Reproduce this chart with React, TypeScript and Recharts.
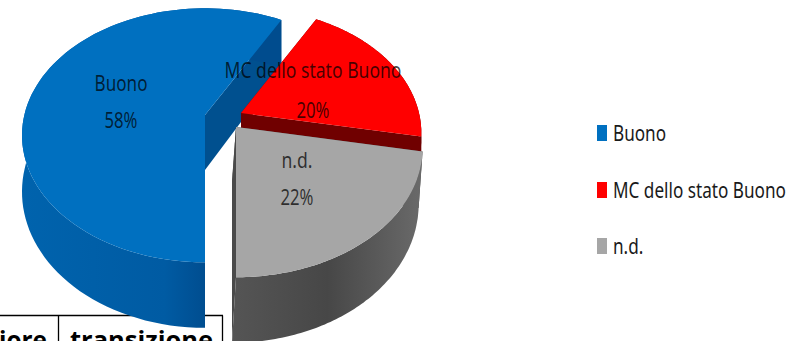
import React from 'react';
import { PieChart, Pie, Legend } from 'recharts';

// Quality status shares shown in the exploded 3D pie
const categories = ['Buono', 'MC dello stato Buono', 'n.d.'];
const shares = [58, 20, 22];
const topColors = ['#0070c0', '#ff0000', '#a6a6a6'];
const cutColors = ['#00508f', '#700000', '#4a4a4a'];
const wallIds = ['wallBlue', 'wallRed', 'wallGrey'];

// Table header cells that sit under the chart
const tableCells = ['iore', 'transizione'];

const pieData = categories.map((name, i) => ({ name, value: shares[i], fill: topColors[i] }));

const FONT = '"Liberation Sans Narrow", "Noto Sans", sans-serif';
const W = 794;
const H = 341;

// Explosion of each slice from the pie centre, its size, wall depth and lower face skew
const explode = [
  { x: -25, y: -5, size: 1.015, depth: 1, lowX: 0 },
  { x: 11, y: -7, size: 1, depth: 0.3, lowX: 0 },
  { x: 6, y: 7, size: 1.035, depth: 1, lowX: -4 },
];
const SQUASH = 0.685;
const PERSPECTIVE = 0.16;
const DEPTH = 55;

// Data label layout relative to the pie centre: x, first line y, second line y, text widths
const labelLayout = [
  { x: -109, y1: -29, y2: 8, w1: 53, w2: 33 },
  { x: 83, y1: -42, y2: -2, w1: 177, w2: 33 },
  { x: 67, y1: 48, y2: 85, w1: 31, w2: 33 },
];

// Legend rows: swatch top
const legendRows = [{ y: 125 }, { y: 182 }, { y: 238 }];
const LEGEND_TEXT_SQUEEZE = 0.78;

type Pt = [number, number];

const toPath = (pts: Pt[]) =>
  'M' + pts.map((p) => `${p[0].toFixed(1)},${p[1].toFixed(1)}`).join('L') + 'Z';

const Slice = (props: any) => {
  const { cx, cy, outerRadius, startAngle, endAngle, fill, index } = props;
  const i = typeof index === 'number' ? index : categories.indexOf(props.name);
  const off = explode[i];
  const ax = cx + off.x;
  const ay = cy + off.y;
  const R = outerRadius * off.size;
  const n = 90;
  const angles = Array.from({ length: n + 1 }, (_, j) => startAngle + ((endAngle - startAngle) * j) / n);
  // Perspective projection of a point on the disc, optionally on its lower face
  const at = (deg: number, radial: number, down: number): Pt => {
    const a = (deg * Math.PI) / 180;
    const u = Math.cos(a) * radial;
    const v = Math.sin(a) * radial;
    const k = 1 / (1 + PERSPECTIVE * v);
    return [ax + R * u * k + (down ? off.lowX : 0), ay - R * SQUASH * v * k + down * DEPTH * off.depth * k];
  };
  const upper = angles.map((d) => at(d, 1, 0));
  const lower = angles.map((d) => at(d, 1, 1));
  const cutWall = (deg: number) => toPath([at(deg, 0, 0), at(deg, 1, 0), at(deg, 1, 1), at(deg, 0, 1)]);
  return (
    <g>
      <path d={cutWall(startAngle)} fill={cutColors[i]} />
      <path d={cutWall(endAngle)} fill={cutColors[i]} />
      <path d={toPath([...upper, ...lower.slice().reverse()])} fill={`url(#${wallIds[i]})`} />
      <path d={toPath([at(0, 0, 0), ...upper])} fill={fill} />
    </g>
  );
};

const SliceLabel = (props: any) => {
  const { cx, cy, index, name, value } = props;
  const l = labelLayout[index];
  const common = {
    x: cx + l.x,
    textAnchor: 'middle' as const,
    fontFamily: FONT,
    fontSize: 22,
    fill: '#000000',
    fillOpacity: 0.72,
    lengthAdjust: 'spacingAndGlyphs' as const,
  };
  return (
    <g>
      <text {...common} y={cy + l.y1} textLength={l.w1}>{name}</text>
      <text {...common} y={cy + l.y2} textLength={l.w2}>{`${value}%`}</text>
    </g>
  );
};

const LegendBox = ({ payload }: any) => (
  <svg width={W} height={H} style={{ display: 'block' }}>
    {(payload || []).map((entry: any, i: number) => (
      <g key={entry.value}>
        <rect x={597} y={legendRows[i].y} width={10} height={16} fill={topColors[i]} />
        <g transform={`translate(613,${legendRows[i].y + 16}) scale(${LEGEND_TEXT_SQUEEZE},1)`}>
          <text x={0} y={0} fontFamily={FONT} fontSize={22} fill="#1a1a1a">
            {entry.value}
          </text>
        </g>
      </g>
    ))}
  </svg>
);

const TableStub = () => (
  <svg width={W} height={H} style={{ position: 'absolute', left: 0, top: 0 }}>
    <path d="M0,315.5H223M58.5,315.5V341M222.5,315.5V341" fill="none" stroke="#000" strokeWidth={1.3} />
    <text x={-1} y={349} fontFamily='"Open Sans", sans-serif' fontWeight={700} fontSize={25} fill="#000" textLength={48} lengthAdjust="spacingAndGlyphs">
      {tableCells[0]}
    </text>
    <text x={70} y={349} fontFamily='"Open Sans", sans-serif' fontWeight={700} fontSize={25} fill="#000" textLength={143} lengthAdjust="spacingAndGlyphs">
      {tableCells[1]}
    </text>
  </svg>
);

export default function App() {
  return (
    <div style={{ position: 'absolute', left: 0, top: 0, width: W, height: H, background: '#fff', overflow: 'hidden' }}>
      <TableStub />
      <PieChart width={W} height={H} margin={{ top: 0, right: 0, bottom: 0, left: 0 }} style={{ position: 'absolute', left: 0, top: 0 }}>
        <defs>
          <linearGradient id="wallBlue" x1="0" x2="1" y1="0" y2="0">
            <stop offset="0" stopColor="#0063ad" />
            <stop offset="0.55" stopColor="#005ba3" />
            <stop offset="0.72" stopColor="#004c8e" />
            <stop offset="1" stopColor="#004c8e" />
          </linearGradient>
          <linearGradient id="wallRed" x1="0" x2="1" y1="0" y2="0">
            <stop offset="0" stopColor="#700000" />
            <stop offset="1" stopColor="#700000" />
          </linearGradient>
          <linearGradient id="wallGrey" x1="0" x2="1" y1="0" y2="0">
            <stop offset="0" stopColor="#555555" />
            <stop offset="0.5" stopColor="#474747" />
            <stop offset="1" stopColor="#6a6a6a" />
          </linearGradient>
        </defs>
        <Pie
          data={pieData}
          dataKey="value"
          nameKey="name"
          cx={230}
          cy={120}
          innerRadius={0}
          outerRadius={178}
          startAngle={270}
          endAngle={-90}
          paddingAngle={0}
          stroke="none"
          isAnimationActive={false}
          shape={Slice}
          label={SliceLabel}
          labelLine={false}
        />
        <Legend
          content={LegendBox}
          wrapperStyle={{ position: 'absolute', left: 0, top: 0, width: W, height: H, pointerEvents: 'none' }}
        />
      </PieChart>
    </div>
  );
}
